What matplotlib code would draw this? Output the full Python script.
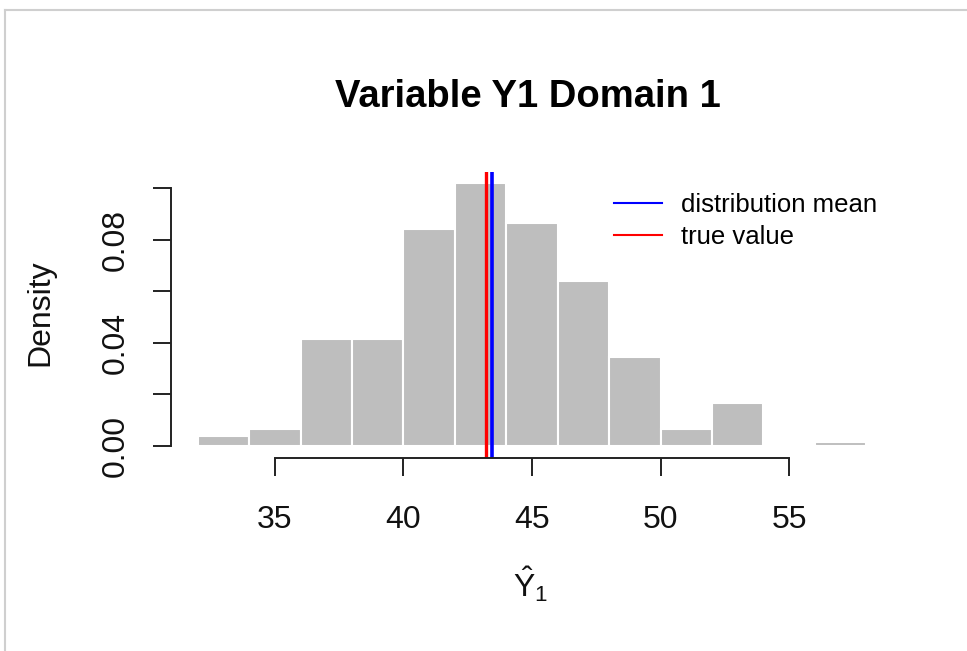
import numpy as np
import matplotlib
matplotlib.use('Agg')
import matplotlib.pyplot as plt
from matplotlib.lines import Line2D

plt.rcParams['font.family'] = ['Liberation Sans', 'DejaVu Sans']
plt.rcParams['mathtext.fontset'] = 'custom'
plt.rcParams['mathtext.rm'] = 'Liberation Sans'
plt.rcParams['mathtext.it'] = 'Liberation Sans'

# histogram (density scale), bins of width 2
bin_edges = [32, 34, 36, 38, 40, 42, 44, 46, 48, 50, 52, 54, 56, 58]
density = [0.0040, 0.0065, 0.0414, 0.0414, 0.0842, 0.1022, 0.0866,
           0.0640, 0.0344, 0.0065, 0.0166, 0.0, 0.0017]
dist_mean = 43.45
true_value = 43.22
xticks = [35, 40, 45, 50, 55]
yticks = [0.00, 0.02, 0.04, 0.06, 0.08, 0.10]
ytick_labels = ['0.00', '', '0.04', '', '0.08', '']

W, H = 967, 651
fig = plt.figure(figsize=(W / 100, H / 100), dpi=100)

# screenshot frame
fig.add_artist(Line2D([4.5 / W, 4.5 / W], [0, 1 - 10 / H], transform=fig.transFigure,
                      color='#cfcfcf', lw=1.5))
fig.add_artist(Line2D([4.5 / W, 1], [1 - 10 / H, 1 - 10 / H], transform=fig.transFigure,
                      color='#cfcfcf', lw=1.5))

ax = fig.add_axes([171 / W, 1 - 458 / H, (893 - 171) / W, (458 - 172) / H])
widths = np.diff(bin_edges)
ax.bar(bin_edges[:-1], density, width=widths, align='edge',
       color='#BEBEBE', edgecolor='white', linewidth=1.5)

ax.axvline(true_value, color='red', lw=2.4, label='true value')
ax.axvline(dist_mean, color='blue', lw=2.6, label='distribution mean')

ax.set_xlim(30.96, 59.04)
ax.set_ylim(-0.00466, 0.1064)

for s in ['top', 'right']:
    ax.spines[s].set_visible(False)
ax.spines['left'].set_bounds(0, 0.10)
ax.spines['bottom'].set_bounds(35, 55)
for s in ['left', 'bottom']:
    ax.spines[s].set_linewidth(1.4)
    ax.spines[s].set_color('#222222')

ax.set_xticks(xticks)
ax.set_yticks(yticks)
ax.set_yticklabels(ytick_labels, rotation=90, va='center')
ax.tick_params(axis='both', direction='out', length=13, width=1.4,
               color='#222222', labelsize=23, labelcolor='#111111')
ax.tick_params(axis='x', pad=21)
ax.tick_params(axis='y', pad=16)

handles, labels = ax.get_legend_handles_labels()
leg = ax.legend(handles[::-1], labels[::-1], frameon=False, fontsize=18.5,
                loc='upper left', bbox_to_anchor=(614 / W, 1 - 193 / H),
                bbox_transform=fig.transFigure, borderpad=0, borderaxespad=0,
                handlelength=1.86, handletextpad=0.76, labelspacing=0.33)
for h in leg.get_lines():
    h.set_linewidth(1.5)

fig.text(528 / W, 1 - 97 / H, 'Variable Y1 Domain 1', ha='center', va='center',
         fontsize=27.5, fontweight='bold')
fig.text(40 / W, 1 - 313 / H, 'Density', ha='center', va='center',
         rotation=90, fontsize=23, color='#111111')
fig.text(531 / W, 1 - 584 / H, r'$\hat{\mathrm{Y}}_{\mathrm{1}}$', ha='center', va='center',
         fontsize=23, color='#111111')

fig.savefig('out.png', dpi=100)
